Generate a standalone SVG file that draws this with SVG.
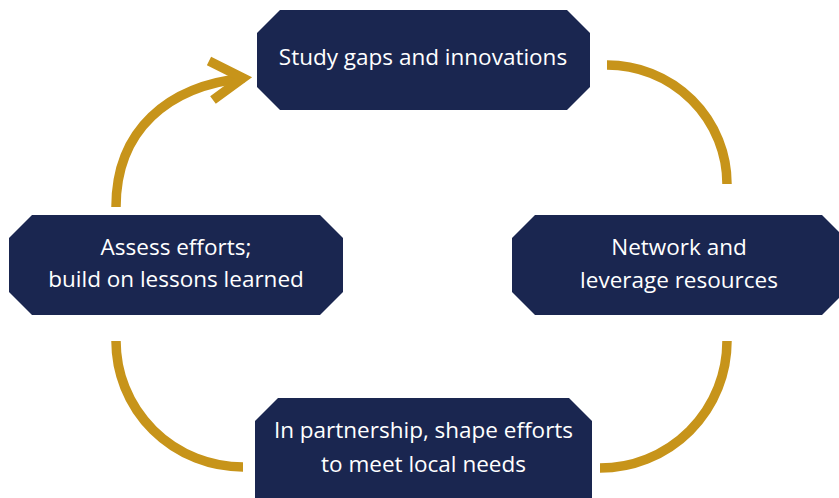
<svg xmlns="http://www.w3.org/2000/svg" width="839" height="498" viewBox="0 0 839 498">
<style>
.node{fill:#1a2650;}
.lbl{fill:#ffffff;font-family:"Open Sans","Noto Sans",sans-serif;font-size:22.5px;text-anchor:middle;}
.arc{fill:none;stroke:#c7941a;stroke-width:9.5;}
</style>
<rect width="839" height="498" fill="#ffffff"/>
<g id="connectors">
<path class="arc" d="M607,65 A120,119 0 0 1 727,184"/>
<path class="arc" d="M727,341 A127,127 0 0 1 600,468"/>
<path class="arc" d="M243,467 A127,126 0 0 1 116,341"/>
<path class="arc" d="M116,207 C116,130 168,86 244,78"/>
<polyline class="arc" stroke-linejoin="miter" points="209,61 243,78 213,100"/>
</g>
<g id="node-study">
<polygon class="node" points="280,10 567,10 590,33 590,87 567,110 280,110 257,87 257,33"/>
<text class="lbl" x="423" y="65">Study gaps and innovations</text>
</g>
<g id="node-network">
<polygon class="node" points="535,215 822,215 846,239 846,291 822,315 535,315 512,292 512,238"/>
<text class="lbl" x="679" y="255">Network and</text>
<text class="lbl" x="679" y="288">leverage resources</text>
</g>
<g id="node-partnership">
<polygon class="node" points="278,398 569,398 592,421 592,498 255,498 255,421"/>
<text class="lbl" x="423.5" y="438">In partnership, shape efforts</text>
<text class="lbl" x="423.5" y="472">to meet local needs</text>
</g>
<g id="node-assess">
<polygon class="node" points="32,215 320,215 343,238 343,292 320,315 32,315 9,292 9,238"/>
<text class="lbl" x="176" y="255">Assess efforts;</text>
<text class="lbl" x="176" y="287">build on lessons learned</text>
</g>
</svg>
